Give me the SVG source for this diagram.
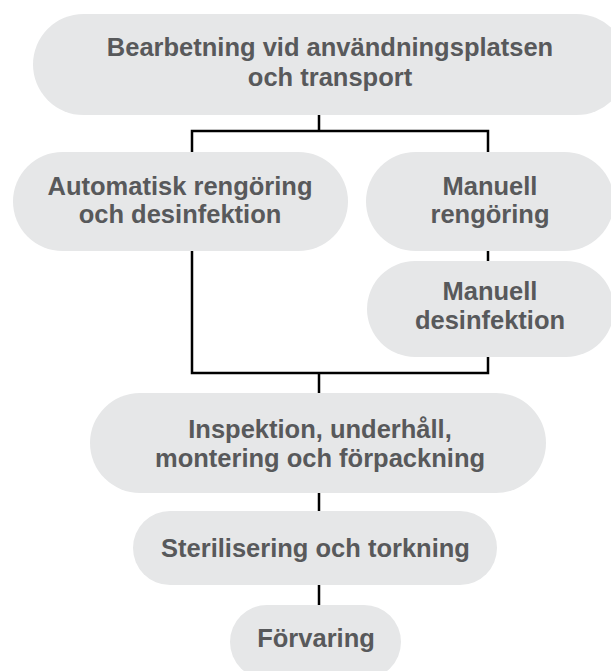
<svg xmlns="http://www.w3.org/2000/svg" width="611" height="671" viewBox="0 0 611 671">
<style>
.pill{fill:#e6e7e8}
.t{font-family:"Liberation Sans",Arial,sans-serif;font-weight:bold;font-size:25.5px;fill:#58595b;text-anchor:middle}
.c{fill:none;stroke:#000;stroke-width:2.5}
</style>
<rect width="611" height="671" fill="#fff"/>
<g id="connectors">
<path class="c" d="M319,115V131M192,152V131H488V152"/>
<path class="c" d="M488,251V261"/>
<path class="c" d="M192,251V373H488V357M319,373V393"/>
<path class="c" d="M319,493V511"/>
<path class="c" d="M319,585V605"/>
</g>
<g id="n1"><rect class="pill" x="33" y="14" width="594" height="101" rx="50.5"/>
<text class="t" x="330" y="56">Bearbetning vid användningsplatsen</text>
<text class="t" x="330" y="86">och transport</text></g>
<g id="n2"><rect class="pill" x="13" y="152" width="335" height="99" rx="49.5"/>
<text class="t" x="180" y="195">Automatisk rengöring</text>
<text class="t" x="180" y="223">och desinfektion</text></g>
<g id="n3"><rect class="pill" x="366" y="152" width="248" height="99" rx="49.5"/>
<text class="t" x="490" y="195">Manuell</text>
<text class="t" x="490" y="223">rengöring</text></g>
<g id="n4"><rect class="pill" x="367" y="261" width="247" height="96" rx="48"/>
<text class="t" x="490" y="300">Manuell</text>
<text class="t" x="490" y="329">desinfektion</text></g>
<g id="n5"><rect class="pill" x="90" y="393" width="456" height="100" rx="50"/>
<text class="t" x="320" y="438">Inspektion, underhåll,</text>
<text class="t" x="320" y="467">montering och förpackning</text></g>
<g id="n6"><rect class="pill" x="133" y="511" width="364" height="74" rx="37"/>
<text class="t" x="315.5" y="557">Sterilisering och torkning</text></g>
<g id="n7"><rect class="pill" x="230" y="605" width="171" height="74" rx="37"/>
<text class="t" x="316" y="647">Förvaring</text></g>
</svg>
